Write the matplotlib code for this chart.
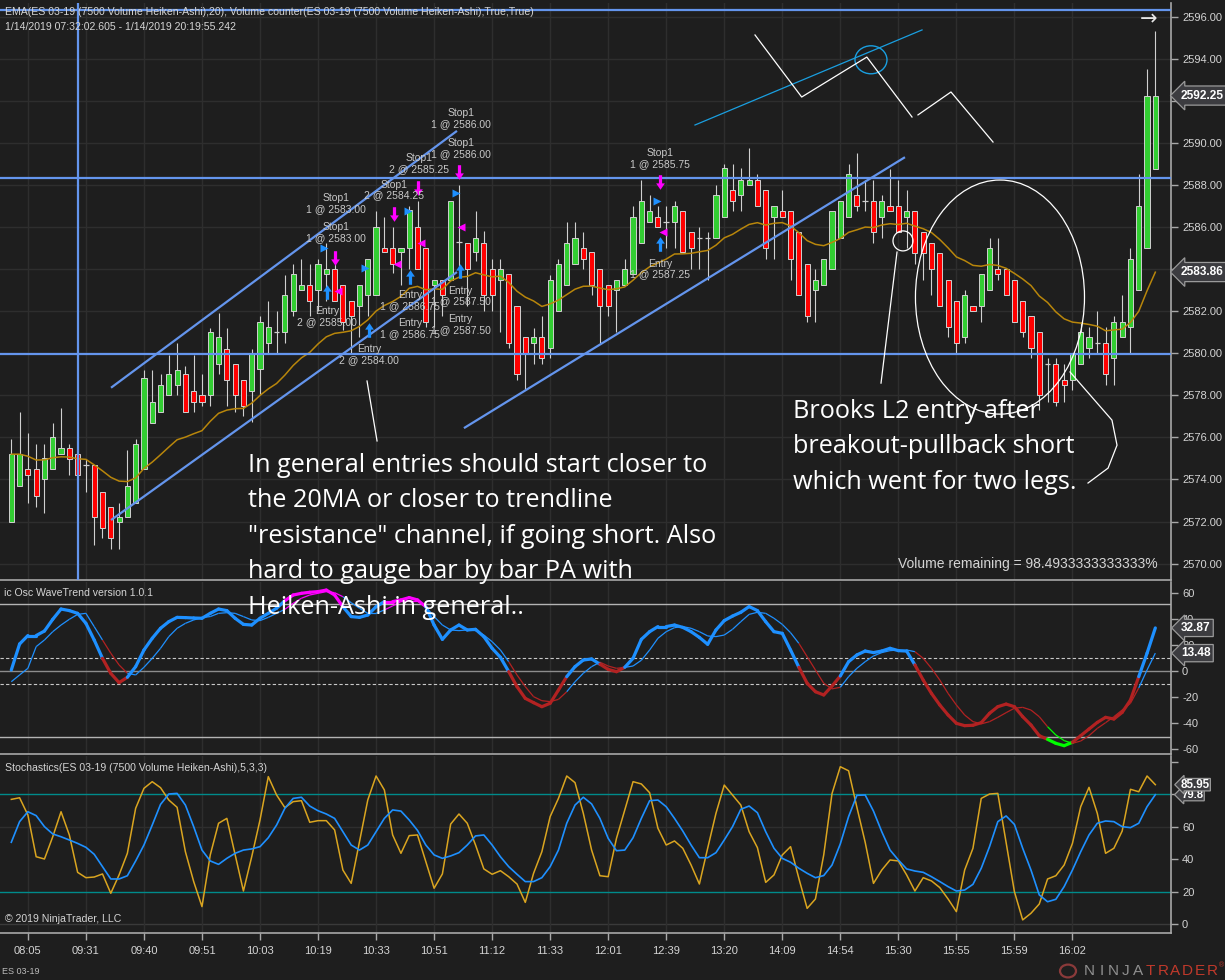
import numpy as np
import pandas as pd
import matplotlib
matplotlib.use("Agg")
import matplotlib.pyplot as plt
from matplotlib.collections import LineCollection
from matplotlib.patches import Ellipse, Circle
from matplotlib.path import Path
import matplotlib.transforms as mtransforms

plt.rcParams['font.family'] = ['Liberation Sans', 'DejaVu Sans']

W, H, DPI = 1225, 980, 100

# ---------------- data ----------------
time_labels = ['08:05', '09:31', '09:40', '09:51', '10:03', '10:19', '10:33', '10:51',
               '11:12', '11:33', '12:01', '12:39', '13:20', '14:09', '14:54', '15:30',
               '15:55', '15:59', '16:02']
time_label_bars = [2 + 7 * k for k in range(len(time_labels))]

ha_open = [2572.0, 2573.7, 2574.5, 2574.5, 2574.0, 2574.5, 2575.2, 2575.5, 2575.2, 2574.7,
           2574.7, 2573.4, 2572.7, 2572.0, 2572.2, 2572.9, 2574.5, 2576.7, 2577.2, 2578.0,
           2578.5, 2579.0, 2578.2, 2578.0, 2578.0, 2579.5, 2580.2, 2579.5, 2578.75, 2578.2,
           2579.25, 2580.5, 2581.0, 2581.0, 2582.0, 2583.0, 2583.25, 2583.0, 2583.75, 2584.0,
           2583.25, 2582.5, 2582.25, 2582.75, 2582.75, 2585.0, 2585.0, 2584.8, 2585.0, 2586.0,
           2585.0, 2583.25, 2583.5, 2583.5, 2585.3, 2585.25, 2584.8, 2585.25, 2584.0, 2583.5,
           2583.75, 2582.25, 2580.75, 2580.5, 2580.75, 2580.25, 2582.0, 2583.25, 2584.25, 2585.0,
           2584.8, 2584.0, 2583.25, 2583.0, 2583.25, 2583.75, 2585.25, 2586.25, 2586.5, 2586.25,
           2586.25, 2586.75, 2585.75, 2585.5, 2585.5, 2585.5, 2586.5, 2587.75, 2587.5, 2588.0,
           2588.25, 2587.75, 2586.5, 2586.75, 2586.75, 2585.75, 2584.25, 2583.0, 2583.25, 2584.0,
           2585.5, 2586.5, 2587.5, 2587.25, 2587.25, 2586.5, 2587.0, 2587.0, 2586.5, 2586.75,
           2585.75, 2585.25, 2584.75, 2583.5, 2582.5, 2580.75, 2582.25, 2582.25, 2583.0, 2584.0,
           2584.0, 2583.5, 2582.5, 2581.75, 2581.0, 2579.5, 2579.5, 2578.75, 2578.75, 2579.5,
           2580.25, 2580.5, 2580.5, 2579.75, 2580.75, 2581.25, 2583.0, 2585.0, 2588.75]
ha_high = [2575.9, 2577.2, 2576.2, 2575.7, 2575.7, 2576.7, 2577.4, 2575.7, 2575.2, 2574.95,
           2574.7, 2573.4, 2572.7, 2572.9, 2575.4, 2575.9, 2579.2, 2579.2, 2579.0, 2579.9,
           2580.5, 2579.4, 2579.9, 2579.0, 2581.2, 2581.9, 2581.2, 2579.5, 2578.75, 2580.2,
           2581.75, 2582.5, 2582.0, 2583.7, 2584.25, 2584.5, 2584.25, 2584.5, 2585.25, 2584.25,
           2583.25, 2582.5, 2583.25, 2584.5, 2586.75, 2586.5, 2586.0, 2585.0, 2587.0, 2587.25,
           2585.0, 2583.5, 2583.5, 2587.25, 2588.0, 2585.25, 2586.75, 2585.8, 2584.5, 2584.5,
           2583.75, 2582.25, 2580.75, 2581.2, 2581.75, 2583.7, 2584.5, 2586.25, 2586.25, 2585.75,
           2584.8, 2584.0, 2583.25, 2583.5, 2584.5, 2587.0, 2588.25, 2587.5, 2587.0, 2587.0,
           2587.25, 2586.75, 2585.75, 2586.0, 2585.75, 2588.0, 2589.0, 2589.0, 2588.8, 2589.75,
           2588.5, 2587.75, 2587.0, 2587.75, 2586.75, 2585.75, 2584.25, 2584.0, 2584.5, 2586.75,
           2587.25, 2589.0, 2589.5, 2588.25, 2588.25, 2587.5, 2588.75, 2588.25, 2587.75, 2586.75,
           2585.75, 2585.25, 2584.75, 2583.5, 2582.5, 2583.0, 2582.25, 2583.75, 2585.5, 2585.5,
           2584.0, 2583.5, 2582.5, 2581.75, 2581.0, 2579.75, 2579.75, 2579.5, 2580.0, 2581.5,
           2581.25, 2582.0, 2581.25, 2581.75, 2582.75, 2585.0, 2588.5, 2593.5, 2595.3]
ha_low = [2572.0, 2573.7, 2572.9, 2572.7, 2572.4, 2574.5, 2575.2, 2574.2, 2574.2, 2573.4,
          2570.9, 2571.2, 2570.7, 2570.7, 2572.2, 2572.9, 2574.5, 2576.7, 2577.2, 2578.0,
          2578.0, 2577.2, 2577.2, 2577.5, 2577.5, 2579.0, 2577.5, 2577.2, 2577.0, 2576.75,
          2578.0, 2580.0, 2580.0, 2580.5, 2581.75, 2583.0, 2581.75, 2582.0, 2582.5, 2582.5,
          2581.1, 2580.0, 2580.75, 2581.75, 2582.75, 2584.8, 2583.8, 2583.25, 2584.0, 2584.0,
          2581.25, 2581.25, 2581.75, 2583.5, 2583.8, 2582.25, 2584.4, 2582.0, 2582.0, 2581.0,
          2580.25, 2578.75, 2578.3, 2579.5, 2579.5, 2579.75, 2582.0, 2583.25, 2584.25, 2584.0,
          2582.75, 2580.5, 2581.75, 2581.0, 2583.25, 2583.75, 2585.25, 2586.25, 2586.0, 2585.0,
          2585.0, 2584.8, 2584.0, 2584.0, 2583.5, 2585.5, 2586.5, 2586.75, 2586.75, 2588.0,
          2587.0, 2584.5, 2584.5, 2586.5, 2583.5, 2582.75, 2581.5, 2581.5, 2583.25, 2584.0,
          2585.5, 2586.5, 2586.75, 2586.75, 2585.25, 2585.5, 2586.75, 2585.75, 2585.0, 2584.25,
          2583.5, 2582.75, 2582.25, 2580.75, 2580.0, 2580.5, 2582.0, 2581.5, 2583.0, 2583.5,
          2582.75, 2581.5, 2580.75, 2579.75, 2577.3, 2577.7, 2577.5, 2577.7, 2578.25, 2579.5,
          2579.75, 2580.0, 2578.5, 2578.5, 2580.75, 2580.0, 2583.0, 2585.0, 2588.75]
ha_close = [2575.2, 2575.2, 2574.2, 2573.2, 2575.0, 2576.0, 2575.5, 2574.95, 2574.2, 2574.7,
            2572.2, 2571.7, 2571.2, 2572.2, 2573.7, 2575.7, 2578.8, 2577.7, 2578.5, 2579.0,
            2579.2, 2577.2, 2577.7, 2577.7, 2581.0, 2580.75, 2578.75, 2578.0, 2577.5, 2580.0,
            2581.5, 2581.25, 2581.0, 2582.75, 2583.75, 2583.25, 2582.5, 2584.25, 2584.0, 2582.5,
            2581.5, 2581.75, 2583.25, 2584.5, 2586.0, 2584.8, 2584.25, 2585.0, 2586.8, 2584.0,
            2581.5, 2583.5, 2582.75, 2587.25, 2585.3, 2584.0, 2585.5, 2582.75, 2582.75, 2584.0,
            2580.5, 2579.0, 2580.0, 2580.75, 2579.75, 2583.5, 2584.25, 2585.25, 2585.5, 2584.5,
            2583.25, 2582.25, 2582.25, 2583.5, 2584.0, 2586.5, 2587.25, 2586.75, 2586.0, 2586.25,
            2587.0, 2584.8, 2585.0, 2585.5, 2585.5, 2587.5, 2588.8, 2587.25, 2588.25, 2588.25,
            2587.0, 2585.0, 2587.0, 2586.5, 2584.5, 2582.75, 2581.75, 2583.5, 2584.5, 2586.75,
            2587.25, 2588.5, 2587.0, 2587.25, 2585.75, 2587.25, 2586.75, 2585.75, 2586.75, 2584.75,
            2584.75, 2584.0, 2582.25, 2581.25, 2580.5, 2582.75, 2582.0, 2583.75, 2585.0, 2583.75,
            2582.75, 2581.5, 2581.0, 2580.25, 2578.0, 2579.5, 2577.7, 2578.5, 2580.0, 2581.0,
            2580.75, 2580.5, 2579.0, 2581.5, 2581.5, 2584.5, 2587.0, 2592.25, 2592.25]

wt1 = [0.5, 20.5, 27, 27, 30.5, 39.5, 47.4, 46.2, 44.1, 36.4,
       23.6, 9.5, -2.1, -9.2, -5.1, 3.1, 15.9, 24.9, 32.6, 37.7,
       41, 40.8, 40.5, 40.3, 44.1, 47.4, 46.2, 40.3, 35.6, 35.1,
       40.3, 44.1, 48, 53.8, 58.2, 59.5, 60.3, 60.8, 62, 58.2,
       49.2, 41.6, 41, 42.8, 49.2, 53.1, 53.1, 54.4, 56.2, 54.4,
       49.2, 35.1, 24.1, 31.3, 35.1, 31.3, 31.8, 26.2, 17.2, 10.3,
       -0.7, -12.3, -21.3, -24.6, -27.7, -25.1, -14.9, -4.6, 3.1, 8.2,
       9.0, 5.0, 1.0, -0.8, 2.6, 9.5, 24.1, 30, 33.9, 33.9,
       35.1, 33.3, 30, 25.6, 20.3, 31.3, 38.5, 42, 44.9, 49.3,
       46.2, 37.7, 30, 28.7, 15.9, 2.6, -9.7, -16.2, -18.7, -11.8,
       -4.1, 6.9, 12.1, 15.1, 13.9, 15.1, 17.2, 15.4, 15.1, 4.4,
       -7.2, -17.5, -26.4, -34.1, -40.5, -42.3, -42, -40, -32.8, -27.7,
       -25.7, -27.7, -35.4, -41.8, -50, -52.8, -55.9, -57.7, -55.1, -50,
       -44.9, -39.8, -35.9, -37.2, -32.1, -22.6, -4.6, 13.4, 32.87]
wt2 = [-8.5, -3.3, 1.8, 18.5, 23.6, 30, 35.1, 39.5, 43.3, 44.1,
       33.9, 23.6, 13.4, 4.4, -2, -3.3, 2.6, 9.5, 17.2, 26.2,
       32.6, 36.4, 39, 40.8, 41.6, 44.1, 44.6, 44.1, 41.6, 39,
       38.5, 41, 44.1, 47.2, 51.8, 55.7, 58.2, 59.5, 60.8, 60,
       56.9, 52.3, 48, 44.1, 44.1, 46.7, 49.8, 53.1, 53.8, 53.8,
       49.2, 41.6, 35.1, 31.3, 30.8, 31.3, 30.8, 27.4, 22.3, 15.9,
       6.9, -3.3, -12.3, -20, -23.1, -23.8, -22.1, -16.2, -8.5, -2,
       3.1, 6.5, 3.6, 1.8, 2.5, 3.6, 8.0, 15.9, 24.9, 30,
       33.1, 33.9, 32.6, 30, 26.7, 26.2, 27.4, 31.8, 37.7, 43.3,
       44.9, 44.1, 40.3, 35.6, 29.2, 21, 10.8, 0.5, -9.7, -14,
       -12.8, -4.6, 1.8, 6.9, 11.3, 13.9, 15.4, 15.9, 15.9, 14.6,
       9.5, 1.8, -7.2, -17.5, -26.4, -34.1, -39.2, -40.9, -39.2, -35.9,
       -32.3, -28.9, -28.2, -30.3, -35.4, -43.1, -49.5, -53.8, -55.9, -54.1,
       -50, -44.4, -40, -35.4, -30.3, -25.1, -13.3, 0.5, 13.48]

stoch_k = [76.9, 77.9, 67.3, 41.6, 40.2, 53.9, 69.3, 55, 32, 28.7,
           29.1, 31, 19.1, 30.4, 43.7, 71.4, 83.7, 87.8, 84.1, 76.5,
           72, 44.7, 26.3, 10.9, 42.7, 62.2, 65.2, 42.7, 20.5, 41.6,
           64.2, 90.9, 79.6, 71.8, 75.5, 76.1, 62.8, 63.8, 63.8, 58.1,
           33.4, 25.2, 50.9, 76.5, 91.3, 82.7, 55, 43.7, 54.6, 55,
           38.6, 22.2, 31, 61.7, 67.9, 62.2, 48.8, 34.1, 30.8, 33,
           29.3, 24.8, 13.5, 31.4, 44.7, 66.3, 77.5, 91.3, 87.2, 68.3,
           45.7, 29.9, 29.3, 52.9, 70.4, 87.8, 86.4, 81, 59.1, 48.8,
           51.3, 46.8, 36.5, 24.8, 46.8, 68.3, 85.7, 79.6, 73.4, 57,
           47.2, 25.8, 30.4, 42.7, 47.8, 28.3, 9.8, 15.6, 42.7, 80.5,
           97, 94.5, 72, 50.5, 25.2, 33.4, 39.6, 39, 30.4, 20.5,
           28.7, 26.7, 22.6, 15.6, 7.8, 33.4, 46.8, 77.5, 80.2, 80.6,
           50.5, 20.1, 2.7, 6.8, 12.5, 27.9, 29.9, 36.5, 49.8, 72.4,
           84.3, 68.3, 43.7, 46.8, 57.4, 83.1, 81.6, 91.3, 85.95]
stoch_d = [50.5, 63.2, 69.3, 66.9, 60.1, 55.6, 53.9, 51.9, 49.8, 47.4,
           43.1, 35.5, 27.9, 27.9, 29.9, 39, 48.8, 61.1, 73.8, 80.2,
           80.6, 73.4, 60.1, 45.7, 39, 36.9, 40.6, 43.7, 45.7, 46.4,
           47.8, 53.3, 61.1, 71.4, 77.5, 78.2, 72.8, 69.9, 67.9, 65.2,
           57, 48.8, 45.7, 48.8, 57, 65.2, 70.4, 69.7, 64.2, 57.8,
           48.8, 42.7, 40.6, 42.1, 44.1, 48.8, 54.4, 55, 48.8, 41.6,
           35.5, 30.8, 26.3, 26.3, 28.7, 35.5, 45.7, 62.2, 73.4, 78.2,
           74.1, 65.2, 52.9, 45.3, 45.7, 53.3, 65.2, 76.1, 76.5, 72.4,
           65.2, 57.4, 48.8, 41, 41, 44.1, 51.9, 60.1, 70.8, 72.8,
           68.7, 57, 46.8, 40.6, 38.2, 34.5, 31.4, 28.7, 30, 36.5,
           49.5, 66.3, 79.4, 79.6, 69.7, 57, 45.7, 39.6, 34.1, 32.8,
           32, 29.3, 26.3, 23.2, 20.5, 21.1, 24.6, 34.5, 47.8, 63.2,
           66.7, 61.5, 46.8, 33.4, 18.1, 13.9, 15.4, 23.2, 33.4, 44.7,
           55, 62.2, 63.6, 63.2, 60.1, 59.5, 62.2, 72.4, 79.8]

# horizontal / vertical drawing objects (price / bar units)
hline_prices = [2596.3, 2588.35, 2579.95]
vline_bar = 8.0
channel_lines = [((12.03, 2578.36), (53.76, 2590.57)),
                 ((12.03, 2572.07), (53.76, 2583.86)),
                 ((54.6, 2576.44), (107.8, 2589.32))]
cyan_line = ((82.47, 2590.85), (109.86, 2595.37))
white_paths = [[(89.71, 2595.13), (95.34, 2592.18), (103.2, 2594.08), (108.65, 2591.23)],
               [(109.37, 2591.33), (113.35, 2592.42), (118.42, 2590.04)],
               [(106.84, 2584.81), (104.91, 2578.58)],
               [(127.71, 2579.11), (132.77, 2576.82), (133.38, 2575.63), (132.3, 2574.54), (129.88, 2573.83)],
               [(42.91, 2578.68), (44.12, 2575.83)]]

# trade markers
entry_arrow_bars = [38.05, 43.2, 48.1, 54.1, 78.2]
entry_arrow_prices = [2582.9, 2581.12, 2583.64, 2583.92, 2585.17]
stop_arrow_bars = [39.1, 46.2, 49.1, 54.0, 78.25]
stop_arrow_prices = [2584.51, 2586.6, 2587.86, 2588.61, 2588.13]
blue_tri_bars = [37.7, 42.7, 47.8, 53.7, 77.9]
blue_tri_prices = [2585.02, 2584.07, 2586.76, 2587.6, 2587.24]
mag_tri_bars = [39.45, 46.5, 49.4, 54.3, 78.6]
mag_tri_prices = [2582.97, 2584.24, 2585.25, 2585.99, 2585.78]
order_label_texts = ["Stop1\n1 @ 2586.00", "Stop1\n1 @ 2586.00", "Stop1\n2 @ 2585.25",
                     "Stop1\n2 @ 2584.25", "Stop1\n1 @ 2583.00", "Stop1\n1 @ 2583.00",
                     "Entry\n2 @ 2585.00", "Entry\n1 @ 2586.75", "Entry\n1 @ 2586.75",
                     "Entry\n2 @ 2584.00", "Entry\n1 @ 2587.50", "Entry\n1 @ 2587.50",
                     "Stop1\n1 @ 2585.75", "Entry\n1 @ 2587.25"]
order_label_bars = [54.25, 54.25, 49.2, 46.2, 39.2, 39.2, 38.1, 48.1, 48.1, 43.15, 54.2, 54.2, 78.3, 78.3]
order_label_prices = [2591.14, 2589.73, 2589.0, 2587.76, 2587.13, 2585.75, 2581.73, 2582.49,
                      2581.17, 2579.95, 2582.72, 2581.38, 2589.26, 2584.0]

note1_lines = ["In general entries should start closer to", "the 20MA or closer to trendline",
               "\"resistance\" channel, if going short. Also", "hard to gauge bar by bar PA with",
               "Heiken-Ashi in general.."]
note2_lines = ["Brooks L2 entry after", "breakout-pullback short", "which went for two legs."]

price_badge_last = 2592.25
ema_badge_value = 2583.86
wt_badges = [32.87, 13.48]
stoch_badges = [85.95, 79.8]

# ---------------- style ----------------
BG = '#1e1e1e'
GRID = '#2e2e2e'
TXT = '#d4d4d4'
BORDER = '#a8a8a8'
GREEN = '#32cd32'
RED = '#ff0000'
OUTLINE = '#d0d0d0'
BLUE_LINE = '#6495ed'
WT_BLUE = '#1e90ff'
WT_RED = '#b22222'
WT_MAG = '#ff00ff'
WT_GREEN = '#00ff00'

fig = plt.figure(figsize=(W / DPI, H / DPI), dpi=DPI, facecolor=BG)


def fx(px):
    return px / W


def fy(py):
    return 1 - py / H


XMIN, XMAX = -1.363, 139.89
ax_main = fig.add_axes([0, fy(580), fx(1171), (580 - 3) / H])
ax_wt = fig.add_axes([0, fy(754), fx(1171), (754 - 582) / H])
ax_st = fig.add_axes([0, fy(933), fx(1171), (933 - 756) / H])

for ax in (ax_main, ax_wt, ax_st):
    ax.set_facecolor(BG)
    ax.set_xlim(XMIN, XMAX)
    ax.set_xticks(time_label_bars)
    ax.grid(axis='x', color=GRID, lw=1.0, zorder=0)
    ax.yaxis.tick_right()
    ax.tick_params(axis='y', which='both', direction='out', length=5, width=1,
                   color=BORDER, labelcolor=TXT, labelsize=8, pad=3)
    for s in ('top', 'left'):
        ax.spines[s].set_visible(False)
    for s in ('right', 'bottom'):
        ax.spines[s].set_color(BORDER)
        ax.spines[s].set_linewidth(1.2)
    ax.set_axisbelow(True)

for ax in (ax_main, ax_wt):
    ax.tick_params(axis='x', length=0, labelbottom=False)


def hidden_formatter(fmt, hidden):
    def f(v, pos):
        if any(abs(v - hv) < 1e-6 for hv in hidden):
            return ''
        return fmt % v
    return matplotlib.ticker.FuncFormatter(f)


# ---------------- main price panel ----------------
ax_main.set_ylim(2569.22, 2596.65)
ax_main.set_yticks(np.arange(2570, 2597, 2))
ax_main.yaxis.set_major_formatter(hidden_formatter('%.2f', [2592, 2584]))
ax_main.grid(axis='y', color=GRID, lw=1.0, zorder=0)

o = np.array(ha_open)
h = np.array(ha_high)
l = np.array(ha_low)
c = np.array(ha_close)
x = np.arange(len(o))
up = c > o
dn = c < o
dj = c == o
ax_main.vlines(x, l, h, color=OUTLINE, lw=0.8, zorder=2)
ax_main.bar(x[up], (c - o)[up], bottom=o[up], width=0.62, color=GREEN,
            edgecolor=OUTLINE, lw=0.7, zorder=3)
ax_main.bar(x[dn], (o - c)[dn], bottom=c[dn], width=0.62, color=RED,
            edgecolor=OUTLINE, lw=0.7, zorder=3)
ax_main.hlines(c[dj], x[dj] - 0.33, x[dj] + 0.33, color=OUTLINE, lw=0.9, zorder=3)

ema = pd.Series(ha_close).ewm(span=20, adjust=False).mean().values
ax_main.plot(x, ema, color='#b8860b', lw=1.1, zorder=4)

for p in hline_prices:
    ax_main.axhline(p, color=BLUE_LINE, lw=1.6, zorder=5)
ax_main.axvline(vline_bar, color=BLUE_LINE, lw=1.6, zorder=5)
for (x0, y0), (x1, y1) in channel_lines:
    ax_main.plot([x0, x1], [y0, y1], color=BLUE_LINE, lw=1.6, zorder=5, solid_capstyle='butt')
ax_main.plot([cyan_line[0][0], cyan_line[1][0]], [cyan_line[0][1], cyan_line[1][1]],
             color='#1a9fe0', lw=0.9, zorder=5)
ax_main.add_patch(Ellipse((103.7, 2593.95), 3.86, 1.33, fill=False, ec='#1a9fe0', lw=1.0, zorder=5))
for path in white_paths:
    xs, ys = zip(*path)
    ax_main.plot(xs, ys, color='white', lw=0.9, zorder=6)
ax_main.add_patch(Ellipse((107.56, 2585.34), 2.41, 0.95, fill=False, ec='white', lw=0.9, zorder=6))
ax_main.add_patch(Ellipse((119.26, 2582.67), 20.39, 11.13, fill=False, ec='white', lw=0.9, zorder=6))

# trade markers
up_arrow = Path([(0, 0.5), (0.3, 0.06), (0.11, 0.06), (0.11, -0.5), (-0.11, -0.5),
                 (-0.11, 0.06), (-0.3, 0.06), (0, 0.5)])
down_arrow = Path([(vx, -vy) for vx, vy in up_arrow.vertices])
ax_main.plot(entry_arrow_bars, entry_arrow_prices, ls='none', marker=up_arrow, ms=10.5,
             mfc='#1e90ff', mec='none', zorder=7)
ax_main.plot(stop_arrow_bars, stop_arrow_prices, ls='none', marker=down_arrow, ms=10.5,
             mfc='#ff00ff', mec='none', zorder=7)
ax_main.plot(blue_tri_bars, blue_tri_prices, ls='none', marker='>', ms=5.5,
             mfc='#1e90ff', mec='none', zorder=7)
ax_main.plot(mag_tri_bars, mag_tri_prices, ls='none', marker='<', ms=5.5,
             mfc='#ff00ff', mec='none', zorder=7)
for t, bx, py in zip(order_label_texts, order_label_bars, order_label_prices):
    ax_main.text(bx, py, t, ha='center', va='center', fontsize=7.5, color='#c8c8c8',
                 linespacing=1.12, zorder=8)

ax_main.text(0.989, 2570.0, 'Volume remaining = 98.4933333333333%',
             transform=mtransforms.blended_transform_factory(ax_main.transAxes, ax_main.transData),
             ha='right', va='center', fontsize=10, color=TXT, zorder=8)


def badge(ax, val, text, fs=8.6, pad=0.3):
    ax.annotate(text, xy=(1.0, val), xycoords=mtransforms.blended_transform_factory(ax.transAxes, ax.transData),
                xytext=(10, 0), textcoords='offset pixels', ha='left', va='center',
                fontsize=fs, color='white', fontweight='bold', annotation_clip=False, zorder=20,
                bbox=dict(boxstyle=f'larrow,pad={pad}', fc='#3c3c40', ec='#9a9a9a', lw=0.9))


badge(ax_main, price_badge_last, f'{price_badge_last:.2f}')
badge(ax_main, ema_badge_value, f'{ema_badge_value:.2f}')

# ---------------- WaveTrend panel ----------------
ax_wt.set_ylim(-64.1, 68.2)
ax_wt.set_yticks([-60, -40, -20, 0, 20, 40, 60])
ax_wt.yaxis.set_major_formatter(matplotlib.ticker.FormatStrFormatter('%d'))
ax_wt.axhline(51, color='#b4b4b4', lw=1.0, zorder=1)
ax_wt.axhline(-51, color='#b4b4b4', lw=1.0, zorder=1)
ax_wt.axhline(0, color='#8c8c8c', lw=1.0, zorder=1)
ax_wt.axhline(10, color='#c8c8c8', lw=0.8, ls=(0, (3, 2)), zorder=1)
ax_wt.axhline(-10, color='#c8c8c8', lw=0.8, ls=(0, (3, 2)), zorder=1)

w1 = np.array(wt1)
w2 = np.array(wt2)
seg_colors = []
for i in range(len(w1) - 1):
    v = w1[i]
    prev = w1[i - 1] if i > 0 else v
    if v > 50:
        col = WT_MAG
    elif v < -50 and v <= prev:
        col = WT_GREEN
    elif v < -10:
        col = WT_RED
    elif v < 10 and v < prev:
        col = WT_RED
    else:
        col = WT_BLUE
    seg_colors.append(col)
xw = np.arange(len(w1))
segs1 = [[(xw[i], w1[i]), (xw[i + 1], w1[i + 1])] for i in range(len(w1) - 1)]
segs2 = [[(xw[i], w2[i]), (xw[i + 1], w2[i + 1])] for i in range(len(w2) - 1)]
ax_wt.add_collection(LineCollection(segs2, colors=seg_colors, linewidths=0.9, zorder=3))
ax_wt.add_collection(LineCollection(segs1, colors=seg_colors, linewidths=2.3, zorder=4,
                                    capstyle='round', joinstyle='round'))
for v in wt_badges:
    badge(ax_wt, v, f'{v:.2f}', pad=0.22)

# ---------------- Stochastics panel ----------------
ax_st.set_ylim(-5.35, 103.6)
ax_st.set_yticks([0, 20, 40, 60, 80])
ax_st.yaxis.set_major_formatter(hidden_formatter('%d', [80]))
ax_st.set_yticks([100], minor=True)
ax_st.axhline(60, color=GRID, lw=1.0, zorder=0)
ax_st.axhline(0, color='#3a3a3a', lw=1.0, zorder=0)
ax_st.axhline(80, color='#008b8b', lw=1.0, zorder=1)
ax_st.axhline(20, color='#008b8b', lw=1.0, zorder=1)
xs_ = np.arange(len(stoch_k))
ax_st.plot(xs_, stoch_k, color='#daa520', lw=1.1, zorder=3)
ax_st.plot(xs_, stoch_d, color='#1e90ff', lw=1.2, zorder=4)
ax_st.set_xticklabels(time_labels)
ax_st.tick_params(axis='x', direction='out', length=5, width=1, color=BORDER,
                  labelcolor=TXT, labelsize=8, pad=4)
badge(ax_st, stoch_badges[1], f'{stoch_badges[1]:g}', fs=8.2, pad=0.1)
badge(ax_st, stoch_badges[0], f'{stoch_badges[0]:.2f}', fs=8.4, pad=0.02)

# ---------------- texts ----------------
fig.text(fx(5), fy(11.7), 'EMA(ES 03-19 (7500 Volume Heiken-Ashi),20), Volume counter(ES 03-19 (7500 Volume Heiken-Ashi),True,True)',
         ha='left', va='center', fontsize=7.6, color=TXT)
fig.text(fx(5), fy(27.3), '1/14/2019 07:32:02.605 - 1/14/2019 20:19:55.242',
         ha='left', va='center', fontsize=7.6, color=TXT)
fig.text(fx(1149), fy(19), '\u2192', ha='center', va='center', fontsize=15, color='#e6e6e6',
         family='DejaVu Sans')
fig.text(fx(4), fy(592.7), 'ic Osc WaveTrend version 1.0.1', ha='left', va='center',
         fontsize=7.6, color=TXT)
fig.text(fx(5), fy(767.7), 'Stochastics(ES 03-19 (7500 Volume Heiken-Ashi),5,3,3)', ha='left',
         va='center', fontsize=7.6, color=TXT)
fig.text(fx(5), fy(919.3), '\u00a9 2019 NinjaTrader, LLC', ha='left', va='center',
         fontsize=7.6, color=TXT)
fig.text(fx(2), fy(971), 'ES 03-19', ha='left', va='center', fontsize=6.5, color='#bbbbbb')

for k, line in enumerate(note1_lines):
    fig.text(fx(248), fy(471.7 + 35.5 * k), line, ha='left', va='baseline', fontsize=18.2,
             color='white', family='Open Sans', zorder=30)
for k, line in enumerate(note2_lines):
    fig.text(fx(793), fy(417.5 + 35.5 * k), line, ha='left', va='baseline', fontsize=18.2,
             color='white', family='Open Sans', zorder=30)

# NinjaTrader logo
logo = "NINJATRADER"
for k, ch in enumerate(logo):
    fig.text(fx(1089 + k * 12.3), fy(971), ch, ha='center', va='center', fontsize=11,
             color='#8f8f8f' if k < 5 else '#c0392b')
fig.text(fx(1219), fy(966), '\u00ae', ha='left', va='center', fontsize=5, color='#c0392b')
fig.patches.append(Circle((fx(1068), fy(971)), 8 / W, transform=fig.transFigure,
                          fill=False, ec='#8a3a3a', lw=1.6))

fig.savefig('out.png', dpi=DPI, facecolor=BG)
